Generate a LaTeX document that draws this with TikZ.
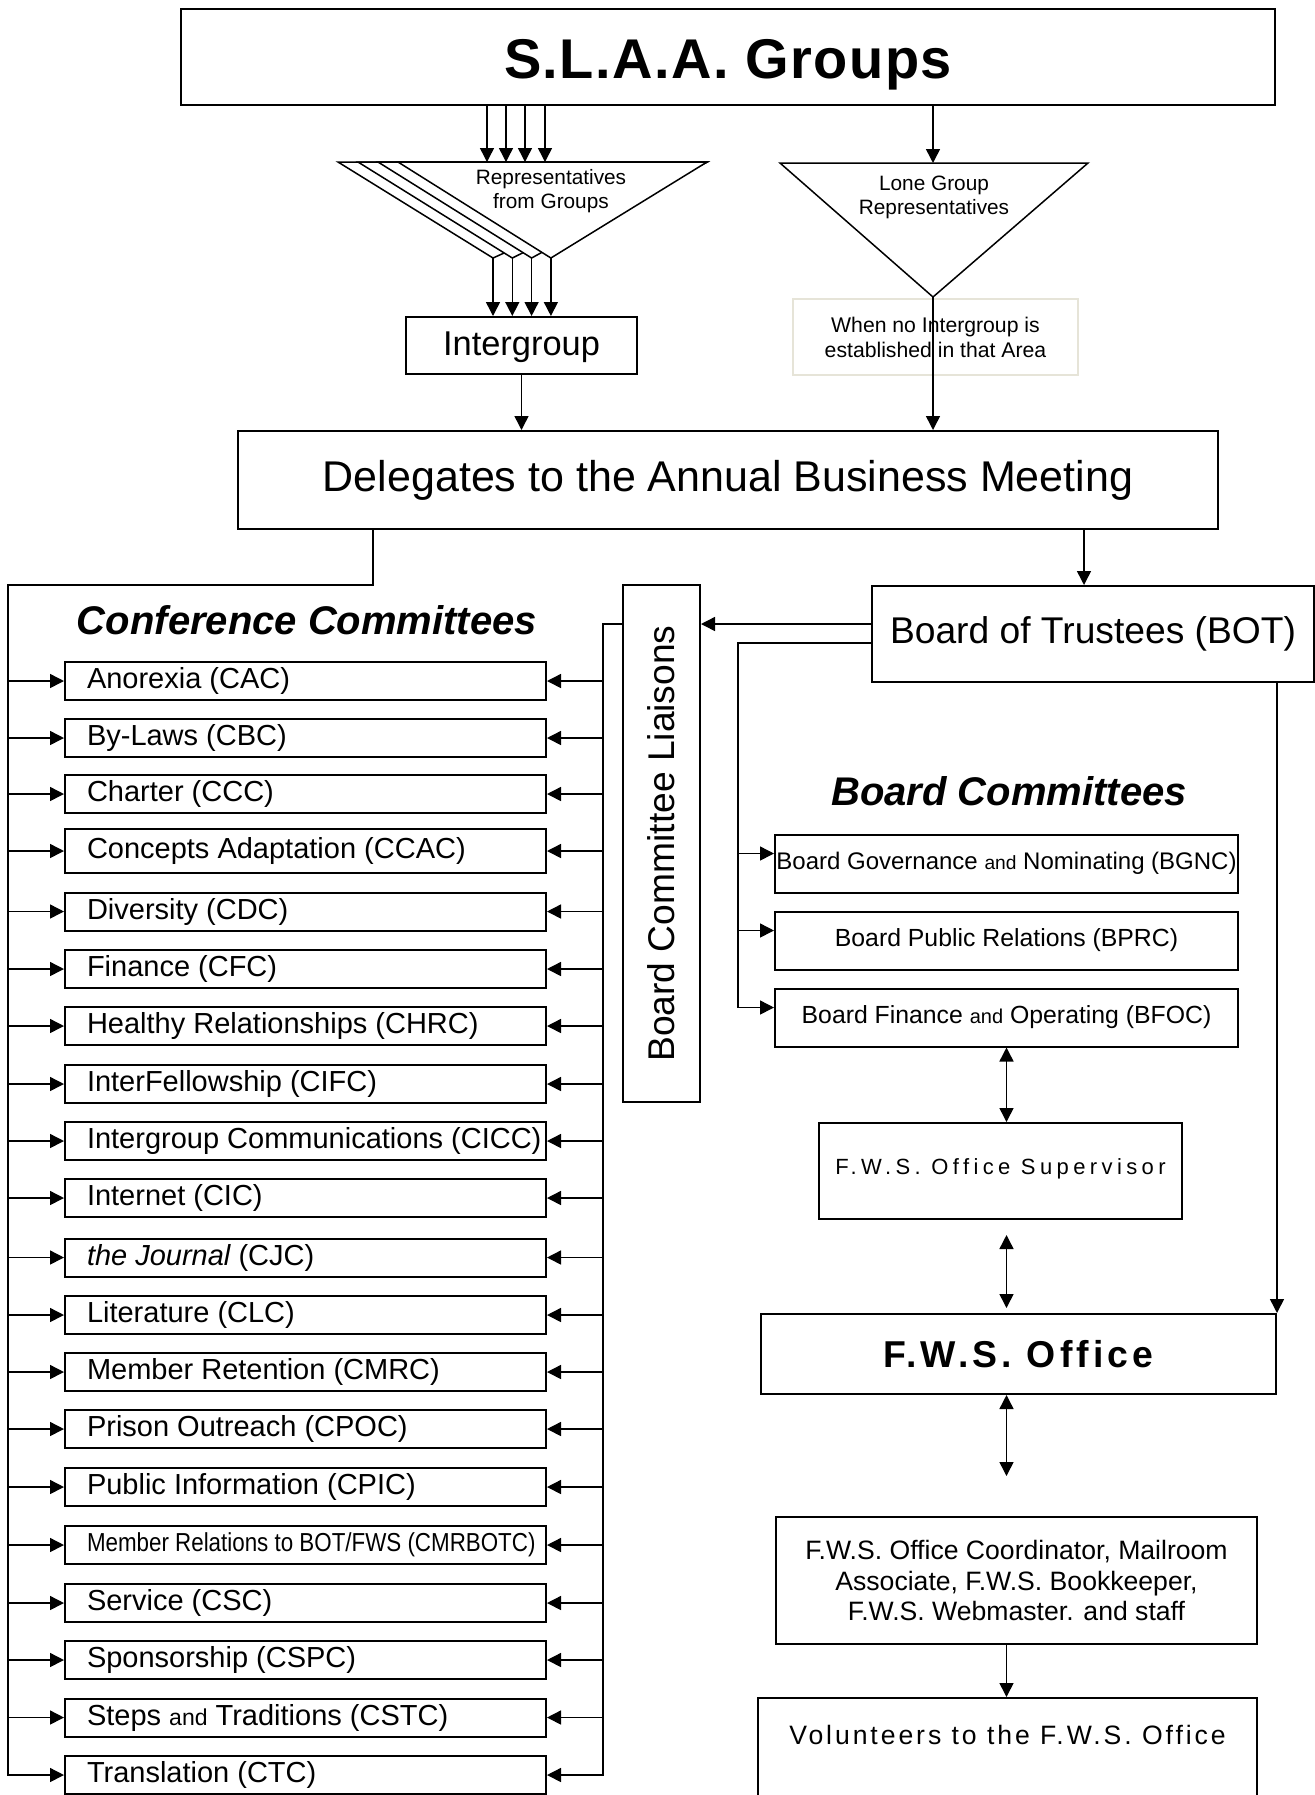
\documentclass[tikz,border=0pt]{standalone}
\usepackage{fontspec}
\setmainfont{Liberation Sans}
\usepackage{graphicx}
\usepackage{tikz}
\usetikzlibrary{arrows.meta,calc}

\definecolor{paleline}{RGB}{230,228,216}
\newcommand{\track}[1]{\addfontfeatures{LetterSpace=#1}}
\newcommand{\cmrbotc}{\scalebox{0.86}[1]{\fontsize{13}{15}\selectfont Member Relations to BOT/FWS (CMRBOTC)}}

\tikzset{
  box/.style={draw, line width=1pt, inner sep=0pt, align=center},
  cmte/.style={box, minimum width=240.5pt, inner xsep=11pt, font=\fontsize{14.5}{17}\selectfont},
  bcmte/.style={box, minimum width=231.5pt, minimum height=29pt, font=\fontsize{12.4}{15}\selectfont},
  conn/.style={line width=0.75pt},
  arr/.style={conn, -{Triangle[length=7pt,width=7pt]}},
  darr/.style={conn, {Triangle[length=7pt,width=7pt]}-{Triangle[length=7pt,width=7pt]}},
}

\begin{document}
\begin{tikzpicture}[x=0.5pt,y=-0.5pt]
    \fill[white] (0,0) rectangle (1315,1795);
    \useasboundingbox (0,0) rectangle (1315,1795);

    % top of the chart
    \node[box, minimum width=547pt, text height=34.5pt, text depth=13.5pt,
          font=\fontsize{28}{34}\selectfont\bfseries\track{2.5}] (groups) at (728,57) {S.L.A.A. Groups};
    \node[box, minimum width=115.5pt, text height=19pt, text depth=9.5pt,
          font=\fontsize{17.2}{20}\selectfont] (inter) at (521.5,345.5) {Intergroup};
    \node[draw=paleline, line width=1pt, inner sep=0pt, minimum width=142.5pt, minimum height=38pt,
          align=center, font=\fontsize{10.6}{12.5}\selectfont] (nointer) at (935.5,337) {When no Intergroup is\\established in that Area};
    \node[box, minimum width=490pt, minimum height=49pt,
          font=\fontsize{21.5}{25}\selectfont] (deleg) at (728,480) {Delegates to the Annual Business Meeting};

    % representatives triangles
    \foreach \i in {0,...,3} {
        \coordinate (rl\i) at ({338+20*\i},162);
        \coordinate (rap\i) at ({493+19.3*\i},258);
    }
    \coordinate (rr) at (707,162);
    \foreach \i in {0,...,3}
        \draw[conn, fill=white] (rl\i) -- (rr) -- (rap\i) -- cycle;
    \node[align=center, font=\fontsize{10.4}{12}\selectfont] (reps) at (551,191) {Representatives\\from Groups};

    \foreach \i/\x in {0/487,1/506,2/525,3/545} {
        \coordinate (rtop\i) at (\x,162);
        \draw[arr] (groups.south -| rtop\i) -- (rtop\i);
    }
    \foreach \i in {0,...,3}
        \draw[arr] (rap\i) -- (rap\i |- inter.north);

    \coordinate (ll) at (780,163);
    \coordinate (lr) at (1088,163);
    \coordinate (lap) at (933,297);
    \draw[conn] (ll) -- (lr) -- (lap) -- cycle;
    \node[align=center, font=\fontsize{10.4}{12}\selectfont] (lone) at (934,197.5) {Lone Group\\Representatives};
    \draw[arr] (groups.south -| lap) -- (lap |- ll);
    \draw[arr] (lap) -- (lap |- deleg.north);
    \draw[arr] (inter.south) -- (inter.south |- deleg.north);

    % board side
    \node[box, minimum width=221pt, minimum height=48pt,
          font=\fontsize{18.6}{22}\selectfont] (bot) at (1093,634) {Board of Trustees (BOT)};
    \node[box, minimum width=38.5pt, minimum height=258.5pt,
          font=\fontsize{18.6}{22}\selectfont] (liais) at (661.5,843.5) {\rotatebox{90}{Board Committee Liaisons}};
    \node[font=\fontsize{20}{24}\selectfont\bfseries\itshape] (bctitle) at (1009,791) {Board Committees};
    \node[bcmte, font=\fontsize{12}{15}\selectfont] (bgnc) at (1006.5,863.5)
        {Board Governance {\fontsize{9.6}{12}\selectfont and} Nominating (BGNC)};
    \node[bcmte] (bprc) at (1006.5,940.5) {Board Public Relations (BPRC)};
    \node[bcmte] (bfoc) at (1006.5,1017.5)
        {Board Finance {\fontsize{10}{12}\selectfont and} Operating (BFOC)};

    \node[box, minimum width=181.5pt, text height=25.5pt, text depth=22.5pt,
          font=\fontsize{11}{13}\selectfont\track{20}] (sup) at (1000.5,1171) {F.W.S. Office Supervisor};
    \node[box, minimum width=257.5pt, minimum height=40pt,
          font=\fontsize{18.7}{22}\selectfont\bfseries\track{11}] (fwso) at (1018.5,1354) {F.W.S. Office};
    \node[box, minimum width=240.5pt, minimum height=63.5pt,
          font=\fontsize{13.3}{15.25}\selectfont] (coord) at (1016.5,1580.5)
        {F.W.S. Office Coordinator, Mailroom\\Associate, F.W.S. Bookkeeper,\\F.W.S. Webmaster. and staff};
    \node[box, minimum width=249.5pt, text height=23.25pt, text depth=48.75pt,
          font=\fontsize{13.3}{15}\selectfont\track{11}] (vol) at (1007.5,1770) {Volunteers to the F.W.S. Office};

    \coordinate (botin) at ($(bot.north)+(-9,0)$);
    \coordinate (liaisout) at ($(bot.west)+(0,-10)$);
    \coordinate (bcout) at ($(bot.west)+(0,9)$);
    \coordinate (bcbus) at (738,643);
    \coordinate (bgncin) at ($(bgnc.west)+(0,-10)$);
    \coordinate (bprcin) at ($(bprc.west)+(0,-10)$);
    \coordinate (bfocin) at ($(bfoc.west)+(0,-10)$);
    \coordinate (fwsfree) at (1006.5,1476);

    \draw[arr] (deleg.south -| botin) -- (botin);
    \draw[arr] (liaisout) -- (liaisout -| liais.east);
    \draw[arr] (bcout) -- (bcbus) -- (bcbus |- bfocin) -- (bfocin);
    \draw[arr] (bcbus |- bgncin) -- (bgncin);
    \draw[arr] (bcbus |- bprcin) -- (bprcin);
    \draw[arr] (bot.south -| fwso.north east) -- (fwso.north east);
    \draw[darr] (bfoc.south) -- (bfoc.south |- sup.north);
    \draw[darr, shorten <=7.5pt, shorten >=2.5pt] (bfoc.south |- sup.south) -- (bfoc.south |- fwso.north);
    \draw[darr] (fwsfree |- fwso.south) -- (fwsfree);
    \draw[arr] (fwsfree |- coord.south) -- (fwsfree |- vol.north);

    % conference committees
    \node[font=\fontsize{20}{24}\selectfont\bfseries\itshape] (cctitle) at (307,620) {Conference Committees};
    \foreach \y/\h/\name [count=\i] in {
        681/19/Anorexia (CAC), 738/19/By-Laws (CBC), 794/19/Charter (CCC),
        851/22/Concepts Adaptation (CCAC), 911.5/19/Diversity (CDC), 969/19/Finance (CFC),
        1026/19/Healthy Relationships (CHRC), 1084/19/InterFellowship (CIFC),
        1141/19/Intergroup Communications (CICC), 1198/19/Internet (CIC),
        1257.5/19/{\itshape the Journal} (CJC), 1315/19/Literature (CLC),
        1372/19/Member Retention (CMRC), 1429/19/Prison Outreach (CPOC),
        1487/19/Public Information (CPIC), 1545/19/\cmrbotc, 1603/19/Service (CSC),
        1660/19/Sponsorship (CSPC), 1717.5/19/Steps {\fontsize{11.5}{14}\selectfont and} Traditions (CSTC),
        1775/19/Translation (CTC)}
        \node[cmte, minimum height=\h*1pt] (c\i) at (305.5,\y) {\makebox[218.5pt][l]{\name}};

    \coordinate (ccdrop) at (373,585);
    \coordinate (lbus) at (8,585);
    \coordinate (rbus) at (603,624);
    \draw[arr] (deleg.south -| ccdrop) -- (ccdrop) -- (lbus) -- (lbus |- c20.west) -- (c20.west);
    \draw[arr] (liais.west |- rbus) -- (rbus) -- (rbus |- c20.east) -- (c20.east);
    \foreach \i in {1,...,19} {
        \draw[arr] (lbus |- c\i.west) -- (c\i.west);
        \draw[arr] (rbus |- c\i.east) -- (c\i.east);
    }
\end{tikzpicture}
\end{document}
